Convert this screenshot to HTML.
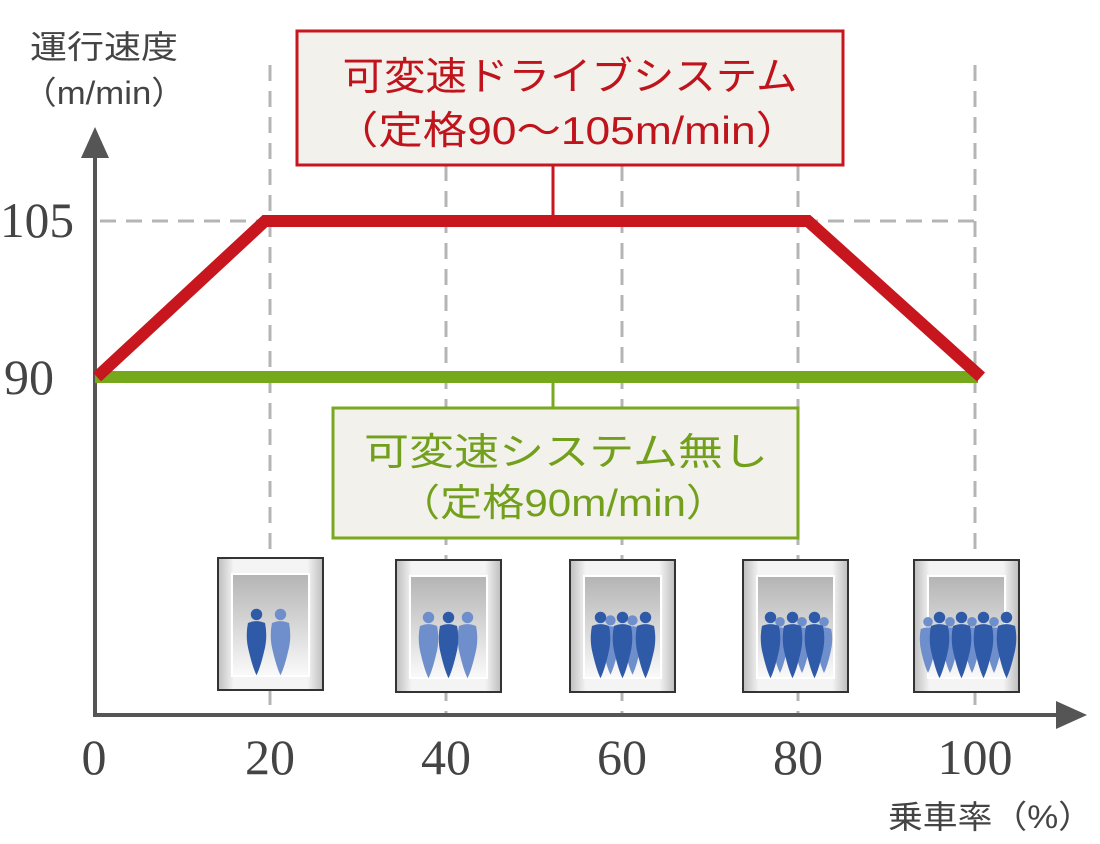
<!DOCTYPE html>
<html><head><meta charset="utf-8"><style>
html,body{margin:0;padding:0;background:#fff;}
svg{display:block}
.jp{font-family:"Liberation Sans","Noto Sans CJK JP",sans-serif;}
.num{font-family:"Liberation Serif",serif;font-size:50px;fill:#444;}
</style></head><body>
<svg width="1100" height="844" viewBox="0 0 1100 844" xmlns="http://www.w3.org/2000/svg">
<defs>
<linearGradient id="fr" x1="0" y1="0" x2="1" y2="0">
<stop offset="0" stop-color="#bdbdbd"/><stop offset="0.15" stop-color="#f4f4f4"/><stop offset="0.85" stop-color="#f4f4f4"/><stop offset="1" stop-color="#bdbdbd"/></linearGradient>
<linearGradient id="in" x1="0" y1="0" x2="0" y2="1">
<stop offset="0" stop-color="#b4b4b4"/><stop offset="1" stop-color="#fafafa"/></linearGradient>
<symbol id="p" viewBox="0 0 20 70" overflow="visible">
<circle cx="10" cy="6" r="6"/>
<path d="M1 15 Q10 11 19 15 Q22 30 18 45 Q14 62 10 70 Q6 62 2 45 Q-2 30 1 15Z"/>
</symbol>
<g id="elev">
<rect x="0" y="0" width="105" height="132" fill="url(#fr)" stroke="#333" stroke-width="2"/>
<rect x="14" y="16" width="77" height="102" fill="url(#in)" stroke="#fff" stroke-width="2"/>
</g>
</defs>
<g stroke="#b5b5b5" stroke-width="3" stroke-dasharray="16 10">
<line x1="270" y1="65" x2="270" y2="715"/>
<line x1="446" y1="165" x2="446" y2="715"/>
<line x1="622" y1="165" x2="622" y2="715"/>
<line x1="798" y1="165" x2="798" y2="715"/>
<line x1="975" y1="65" x2="975" y2="715"/>
<line x1="100" y1="221" x2="975" y2="221"/>
</g>
<line x1="95" y1="150" x2="95" y2="716" stroke="#555" stroke-width="4"/>
<polygon points="95,127 81,158 109,158" fill="#555"/>
<line x1="93" y1="715" x2="1065" y2="715" stroke="#555" stroke-width="4"/>
<polygon points="1087,715 1056,701 1056,729" fill="#555"/>
<line x1="553" y1="165" x2="553" y2="221" stroke="#c8161e" stroke-width="3"/>
<line x1="553" y1="377" x2="553" y2="408" stroke="#7aa81f" stroke-width="3"/>
<line x1="95" y1="377" x2="978" y2="377" stroke="#76a81b" stroke-width="12"/>
<polyline points="97,377 265,221 808,221 981,377" fill="none" stroke="#c8161e" stroke-width="12" stroke-linejoin="miter"/>
<rect x="297" y="31" width="546" height="134" fill="#f3f1ec" stroke="#c8161e" stroke-width="3"/>
<text class="jp" x="570" y="90" text-anchor="middle" font-size="39" fill="#c0141c" textLength="455" lengthAdjust="spacingAndGlyphs">可変速ドライブシステム</text>
<text class="jp" x="567" y="144" text-anchor="middle" font-size="39" fill="#c0141c" textLength="466" lengthAdjust="spacingAndGlyphs">（定格90～105m/min）</text>
<rect x="333" y="408" width="465" height="130" fill="#f3f1ec" stroke="#7aa81f" stroke-width="3"/>
<text class="jp" x="566" y="465" text-anchor="middle" font-size="38" fill="#72a01c" textLength="404" lengthAdjust="spacingAndGlyphs">可変速システム無し</text>
<text class="jp" x="563" y="516" text-anchor="middle" font-size="38" fill="#72a01c" textLength="330" lengthAdjust="spacingAndGlyphs">（定格90m/min）</text>
<text class="jp" x="30" y="58" font-size="32" fill="#444" textLength="148" lengthAdjust="spacingAndGlyphs">運行速度</text>
<text class="jp" x="22" y="104" font-size="32" fill="#444" textLength="164" lengthAdjust="spacingAndGlyphs">（m/min）</text>
<text class="num" x="0" y="237" textLength="74" lengthAdjust="spacingAndGlyphs">105</text>
<text class="num" x="4" y="394">90</text>
<text class="num" x="94" y="774" text-anchor="middle">0</text>
<text class="num" x="270" y="774" text-anchor="middle">20</text>
<text class="num" x="446" y="774" text-anchor="middle">40</text>
<text class="num" x="622" y="774" text-anchor="middle">60</text>
<text class="num" x="798" y="774" text-anchor="middle">80</text>
<text class="num" x="975" y="774" text-anchor="middle">100</text>
<text class="jp" x="888" y="828" font-size="32" fill="#444" textLength="205" lengthAdjust="spacingAndGlyphs">乗車率（%）</text>
<use href="#elev" x="218" y="558"/>
<use href="#elev" x="396" y="560"/>
<use href="#elev" x="570" y="560"/>
<use href="#elev" x="743" y="560"/>
<use href="#elev" x="914" y="560"/>
<g fill="#2f5aa8"><use href="#p" x="247" y="607" width="19" height="70"/></g>
<g fill="#6f8fcc"><use href="#p" x="271" y="607" width="19" height="70"/></g>
<g fill="#6f8fcc"><use href="#p" x="419" y="610" width="19" height="70"/><use href="#p" x="458" y="610" width="19" height="70"/></g>
<g fill="#2f5aa8"><use href="#p" x="439" y="610" width="19" height="70"/></g>
<g fill="#6f8fcc"><use href="#p" x="602" y="610" width="17" height="70"/><use href="#p" x="624" y="610" width="17" height="70"/></g>
<g fill="#2f5aa8"><use href="#p" x="591" y="610" width="19" height="70"/><use href="#p" x="613" y="610" width="19" height="70"/><use href="#p" x="636" y="610" width="19" height="70"/></g>
<g fill="#6f8fcc"><use href="#p" x="772" y="610" width="16" height="70"/><use href="#p" x="794" y="610" width="16" height="70"/><use href="#p" x="816" y="610" width="16" height="70"/></g>
<g fill="#2f5aa8"><use href="#p" x="761" y="610" width="19" height="70"/><use href="#p" x="783" y="610" width="19" height="70"/><use href="#p" x="805" y="610" width="19" height="70"/></g>
<g fill="#6f8fcc"><use href="#p" x="920" y="610" width="16" height="70"/><use href="#p" x="942" y="610" width="16" height="70"/><use href="#p" x="964" y="610" width="16" height="70"/><use href="#p" x="986" y="610" width="16" height="70"/></g>
<g fill="#2f5aa8"><use href="#p" x="930" y="610" width="19" height="70"/><use href="#p" x="952" y="610" width="19" height="70"/><use href="#p" x="974" y="610" width="19" height="70"/><use href="#p" x="997" y="610" width="19" height="70"/></g>
</svg>
</body></html>
